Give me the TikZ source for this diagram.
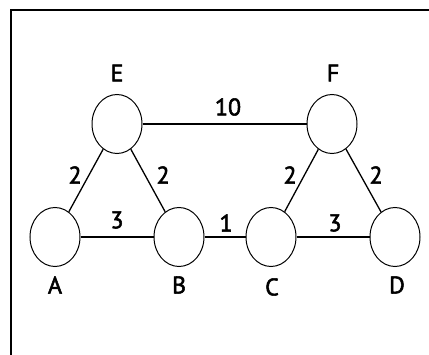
\documentclass[tikz,border=0pt]{standalone}
\usepackage{fontspec}
\setmainfont{PT Sans}[FakeBold=2.2]
\usetikzlibrary{shapes.geometric}
\tikzset{
  vert/.style={draw, ellipse, line width=1pt, minimum width=50pt, minimum height=59pt, inner sep=0pt},
  edge/.style={line width=1.3pt},
  lbl/.style={font=\fontsize{24}{24}\selectfont, inner sep=0pt, anchor=center},
  frame/.style={line width=1.3pt}
}
\begin{document}
\begin{tikzpicture}[x=1pt,y=-1pt]
\useasboundingbox (0,0) rectangle (429,355);
\coordinate (tl) at (11,10);
\coordinate (tr) at (429,10);
\coordinate (bl) at (11,355);
\draw[frame] (tr) -- (tl) -- (bl);
\node[vert] (E) at (117,124) {};
\node[vert] (F) at (332,124) {};
\node[vert] (A) at (55,237) {};
\node[vert] (B) at (179,237) {};
\node[vert] (C) at (271,237) {};
\node[vert] (D) at (395,237) {};
\draw[edge] (E) -- (F);
\draw[edge] (E) -- (A);
\draw[edge] (E) -- (B);
\draw[edge] (A) -- (B);
\draw[edge] (B) -- (C);
\draw[edge] (C) -- (D);
\draw[edge] (F) -- (C);
\draw[edge] (F) -- (D);
\node[lbl] (lE) at (117,73) {E};
\node[lbl] (lF) at (333,73) {F};
\node[lbl] (lA) at (55,285) {A};
\node[lbl] (lB) at (179,285) {B};
\node[lbl] (lC) at (272,287) {C};
\node[lbl] (lD) at (397,285) {D};
\node[lbl] (w10) at (228,107) {10};
\node[lbl] (wEA) at (75,175) {2};
\node[lbl] (wEB) at (163,175) {2};
\node[lbl] (wAB) at (117,220) {3};
\node[lbl] (wBC) at (226,223) {1};
\node[lbl] (wFC) at (290,175) {2};
\node[lbl] (wFD) at (376,175) {2};
\node[lbl] (wCD) at (335,223) {3};
\end{tikzpicture}
\end{document}
